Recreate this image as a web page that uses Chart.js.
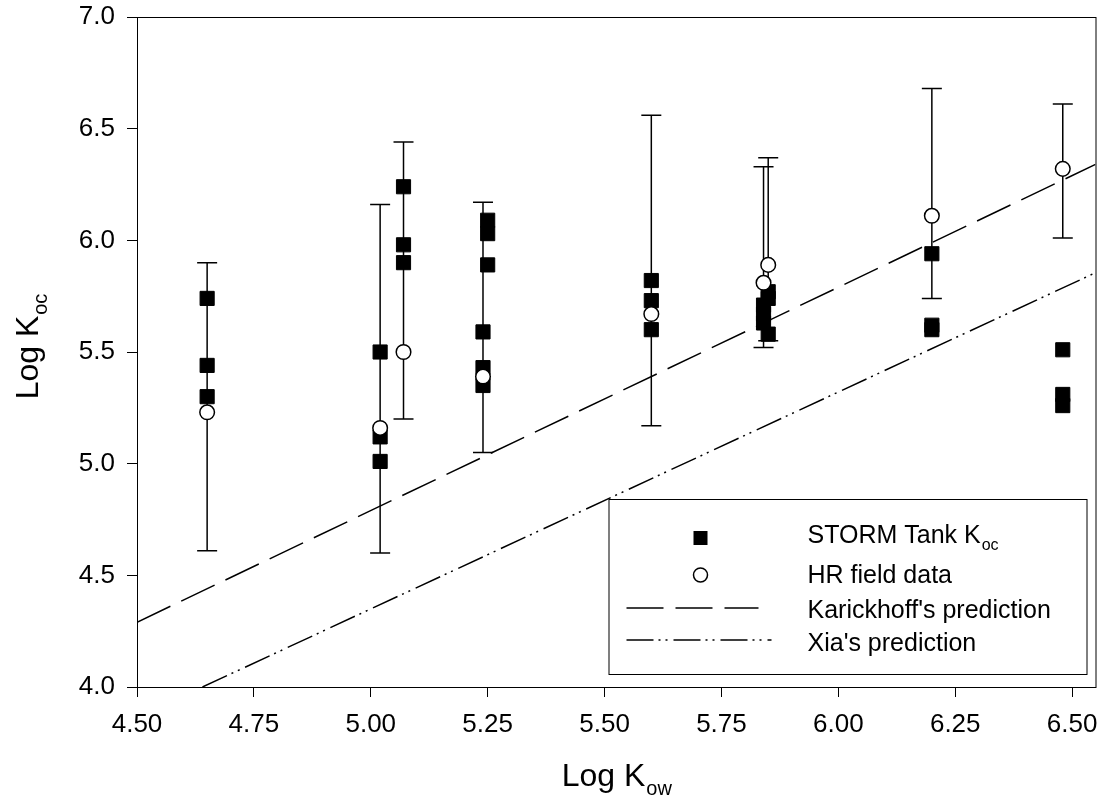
<!DOCTYPE html>
<html>
<head>
<meta charset="utf-8">
<title>Log Koc vs Log Kow</title>
<script src="https://cdn.jsdelivr.net/npm/chart.js@4.4.0/dist/chart.umd.min.js"></script>
<style>
    html, body { margin: 0; padding: 0; background: #fff; }
    #chart { display: block; }
</style>
</head>
<body>
<canvas id="chart" width="1107" height="809"></canvas>
<script>
// STORM tank Koc measurements
var stormX = [4.65, 4.65, 4.65, 5.02, 5.02, 5.02, 5.07, 5.07, 5.07, 5.25, 5.25, 5.25, 5.24, 5.24, 5.24,
    5.60, 5.60, 5.60, 5.84, 5.84, 5.84, 5.85, 5.85, 5.85, 6.20, 6.20, 6.20, 6.48, 6.48, 6.48]
var stormY = [5.74, 5.44, 5.30, 5.50, 5.12, 5.01, 6.24, 5.98, 5.90, 6.09, 6.03, 5.89, 5.59, 5.43, 5.35,
    5.82, 5.73, 5.60, 5.71, 5.67, 5.63, 5.77, 5.74, 5.58, 5.94, 5.62, 5.60, 5.51, 5.31, 5.26]

// HR field data with its range
var hrX = [4.65, 5.02, 5.07, 5.24, 5.60, 5.84, 5.85, 6.20, 6.48]
var hrY = [5.23, 5.16, 5.50, 5.39, 5.67, 5.81, 5.89, 6.11, 6.32]
var hrLow = [4.61, 4.60, 5.20, 5.05, 5.17, 5.52, 5.55, 5.74, 6.01]
var hrHigh = [5.90, 6.16, 6.44, 6.17, 6.56, 6.33, 6.37, 6.68, 6.61]

// prediction lines (end points)
var karickhoffX = [4.50, 6.55]
var karickhoffY = [4.29, 6.34]
var xiaX = [4.64, 6.55]
var xiaY = [4.00, 5.855]

var xTicks = [4.50, 4.75, 5.00, 5.25, 5.50, 5.75, 6.00, 6.25, 6.50]
var yTicks = [4.0, 4.5, 5.0, 5.5, 6.0, 6.5, 7.0]

var FONT = "'Liberation Sans', Arial, Helvetica, sans-serif"
var karDash = [37, 12]
var xiaDash = [27, 5, 2, 5, 2, 6]

function toPoints(xs, ys) {
    return xs.map(function (x, i) { return { x: x, y: ys[i] } })
}

// vertical bars split by nulls, and the caps at both ends
var barLines = []
var barCaps = []
hrX.forEach(function (x, i) {
    barLines.push({ x: x, y: hrLow[i] }, { x: x, y: hrHigh[i] }, { x: x, y: null })
    barCaps.push({ x: x, y: hrLow[i] }, { x: x, y: hrHigh[i] })
})

function drawSub(ctx, x, y, main, sub, size, center) {
    ctx.font = size + 'px ' + FONT
    var w1 = ctx.measureText(main).width
    var subSize = Math.round(size * 0.62)
    ctx.font = subSize + 'px ' + FONT
    var w2 = ctx.measureText(sub).width
    var start = center ? x - (w1 + w2) / 2 : x
    ctx.textAlign = 'left'
    ctx.textBaseline = 'alphabetic'
    ctx.font = size + 'px ' + FONT
    ctx.fillText(main, start, y)
    ctx.font = subSize + 'px ' + FONT
    ctx.fillText(sub, start + w1 + 1, y + size * 0.27)
}

var decorations = {
    id: 'decorations',
    afterDraw: function (chart) {
        var ctx = chart.ctx
        var a = chart.chartArea
        ctx.save()
        ctx.fillStyle = '#000'
        ctx.strokeStyle = '#000'

        // frame
        ctx.lineWidth = 1
        ctx.strokeRect(a.left + 0.5, a.top + 0.5, a.right - a.left, a.bottom - a.top)

        // axis titles
        drawSub(ctx, (a.left + a.right) / 2, 786, 'Log K', 'ow', 32, true)
        ctx.save()
        ctx.translate(38, (a.top + a.bottom) / 2 - 5)
        ctx.rotate(-Math.PI / 2)
        drawSub(ctx, 0, 0, 'Log K', 'oc', 32, true)
        ctx.restore()

        // legend
        var bx = a.right - 487, by = a.bottom - 188
        ctx.strokeRect(bx + 0.5, by + 0.5, 478, 175)
        var sx = bx + 92, tx = bx + 199

        ctx.fillRect(sx - 7, by + 32, 14, 14)
        drawSub(ctx, tx, by + 44, 'STORM Tank K', 'oc', 25, false)

        ctx.beginPath()
        ctx.lineWidth = 1.5
        ctx.fillStyle = '#fff'
        ctx.arc(sx, by + 76, 7, 0, Math.PI * 2)
        ctx.fill()
        ctx.stroke()
        ctx.fillStyle = '#000'
        ctx.font = '25px ' + FONT
        ctx.fillText('HR field data', tx, by + 84)

        ctx.lineWidth = 1.5
        ctx.setLineDash(karDash)
        ctx.beginPath()
        ctx.moveTo(bx + 18, by + 109)
        ctx.lineTo(bx + 150, by + 109)
        ctx.stroke()
        ctx.setLineDash(xiaDash)
        ctx.beginPath()
        ctx.moveTo(bx + 18, by + 141)
        ctx.lineTo(bx + 163, by + 141)
        ctx.stroke()
        ctx.setLineDash([])
        ctx.fillText("Karickhoff's prediction", tx, by + 119)
        ctx.fillText("Xia's prediction", tx, by + 152)

        ctx.restore()
    }
}

var axisGrid = { drawOnChartArea: false, drawTicks: true, tickLength: 10, color: '#000', lineWidth: 1 }

var chart = new Chart(document.getElementById('chart').getContext('2d'), {
    type: 'scatter',
    data: {
        datasets: [
            {
                label: 'HR field data',
                data: toPoints(hrX, hrY),
                pointStyle: 'circle',
                pointRadius: 7.3,
                backgroundColor: '#fff',
                borderColor: '#000',
                borderWidth: 1.5,
                order: 1
            },
            {
                label: 'STORM Tank Koc',
                data: toPoints(stormX, stormY),
                pointStyle: 'rect',
                pointRadius: 10,
                backgroundColor: '#000',
                borderColor: '#000',
                borderWidth: 1,
                order: 2
            },
            {
                label: "Karickhoff's prediction",
                data: toPoints(karickhoffX, karickhoffY),
                showLine: true,
                pointRadius: 0,
                borderColor: '#000',
                borderWidth: 1.5,
                borderDash: karDash,
                order: 3
            },
            {
                label: "Xia's prediction",
                data: toPoints(xiaX, xiaY),
                showLine: true,
                pointRadius: 0,
                borderColor: '#000',
                borderWidth: 1.5,
                borderDash: xiaDash,
                order: 3
            },
            {
                label: 'range',
                data: barLines,
                showLine: true,
                spanGaps: false,
                pointRadius: 0,
                borderColor: '#000',
                borderWidth: 1.5,
                order: 4
            },
            {
                label: 'caps',
                data: barCaps,
                pointStyle: 'line',
                pointRadius: 10,
                borderColor: '#000',
                borderWidth: 1.5,
                order: 4
            }
        ]
    },
    options: {
        responsive: false,
        animation: false,
        events: [],
        layout: { padding: { top: 17, right: 10, bottom: 0, left: 0 } },
        plugins: {
            legend: { display: false },
            tooltip: { enabled: false }
        },
        scales: {
            x: {
                type: 'linear',
                min: 4.5,
                max: 6.55,
                afterBuildTicks: function (s) { s.ticks = xTicks.map(function (v) { return { value: v } }) },
                afterFit: function (s) {
                    s.height = 122
                    s.paddingLeft = 0
                    s.paddingRight = 0
                },
                grid: axisGrid,
                border: { color: '#000', width: 1 },
                ticks: {
                    color: '#000',
                    font: { family: FONT, size: 26 },
                    padding: 12,
                    maxRotation: 0,
                    autoSkip: false,
                    callback: function (v) { return v.toFixed(2) }
                }
            },
            y: {
                type: 'linear',
                min: 4.0,
                max: 7.0,
                afterBuildTicks: function (s) { s.ticks = yTicks.map(function (v) { return { value: v } }) },
                afterFit: function (s) {
                    s.width = 137
                    s.paddingTop = 0
                    s.paddingBottom = 0
                },
                grid: axisGrid,
                border: { color: '#000', width: 1 },
                ticks: {
                    color: '#000',
                    font: { family: FONT, size: 26 },
                    padding: 12,
                    autoSkip: false,
                    callback: function (v) { return v.toFixed(1) }
                }
            }
        }
    },
    plugins: [decorations]
})
</script>
</body>
</html>
